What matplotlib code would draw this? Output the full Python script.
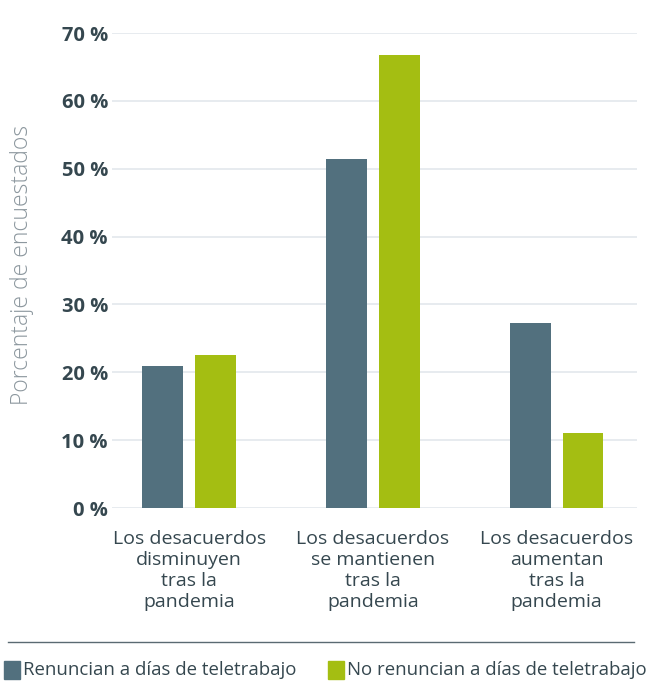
import numpy as np
import matplotlib.pyplot as plt
from matplotlib.patches import Rectangle


# DATA

categories = ["Los desacuerdos\ndisminuyen\ntras la\npandemia",
              "Los desacuerdos\nse mantienen\ntras la\npandemia",
              "Los desacuerdos\naumentan\ntras la\npandemia"]
renuncian = [21.0, 51.5, 27.3]        # % encuestados
no_renuncian = [22.6, 66.8, 11.1]     # % encuestados
yticks = [0, 10, 20, 30, 40, 50, 60, 70]
series_names = ["Renuncian a días de teletrabajo", "No renuncian a días de teletrabajo"]


# STYLE

blue = "#52707e"
green = "#a4be12"
text_dark = "#35474f"
text_gray = "#8c979e"
grid_col = "#e3e8ec"
plt.rcParams['font.family'] = ['Open Sans', 'DejaVu Sans']


# PLOT

fig = plt.figure(figsize=(6.52, 6.81), dpi=100)
ax = fig.add_axes([0.172, 0.254, 0.805, 0.6975])

x = np.arange(len(categories))
w = 0.223
off = 0.144
ax.bar(x - off, renuncian, width=w, color=blue, zorder=2)
ax.bar(x + off, no_renuncian, width=w, color=green, zorder=2)

ax.set_xlim(-0.419, 2.438)
ax.set_ylim(0, 70)
ax.set_yticks(yticks)
ax.set_yticklabels([f"{v} %" for v in yticks], fontsize=14.5, fontweight='bold', color=text_dark)
ax.set_xticks(x)
ax.set_xticklabels(categories, fontsize=14, color=text_dark, linespacing=1.2)
ax.tick_params(axis='both', length=0)
ax.tick_params(axis='y', pad=3)
ax.tick_params(axis='x', pad=16)
ax.yaxis.grid(True, color=grid_col, linewidth=1.2, zorder=0)
ax.set_axisbelow(True)
for s in ax.spines.values():
    s.set_visible(False)

fig.text(0.034, 0.611, "Porcentaje de encuestados", rotation=90, fontsize=16.5,
         color=text_gray, fontweight='light', ha='center', va='center')

# separator line above the legend
fig.add_artist(plt.Line2D([0.012, 0.973], [1 - 642/681, 1 - 642/681],
                          color="#5a6a72", linewidth=1.0))

# legend drawn by hand along the bottom edge
ly = 1 - 670/681
for xs, col, name in [(0.006, blue, series_names[0]), (0.503, green, series_names[1])]:
    fig.add_artist(Rectangle((xs, ly - 0.0125), 0.024, 0.025, color=col,
                             transform=fig.transFigure))
    fig.text(xs + 0.029, ly, name, fontsize=13.4, color=text_dark, va='center', ha='left')

fig.savefig("out.png", dpi=100)
